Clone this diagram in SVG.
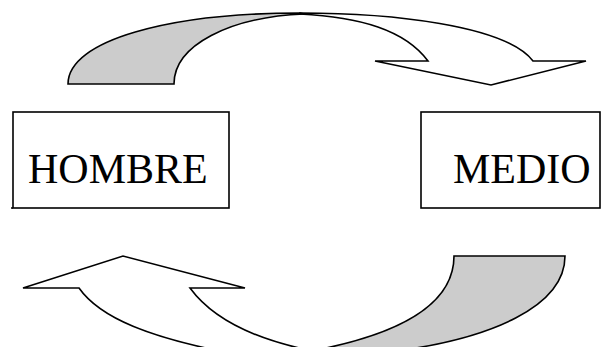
<svg xmlns="http://www.w3.org/2000/svg" width="602" height="347" viewBox="0 0 602 347">
<style>
.shape{stroke:#000;stroke-width:1.6;stroke-linejoin:miter}
.gray{fill:#cccccc}
.white{fill:#ffffff}
.box{fill:#fff;stroke:#000;stroke-width:1.6}
.lbl{font-family:"Liberation Serif","Times New Roman",serif;font-size:42px;fill:#000}
</style>
<rect width="602" height="347" fill="#fff"/>
<g id="connectors">
  <g id="top-arrow">
    <path class="shape gray" d="M68,84 C68,40 170,13 300,13 L304,14 C230,17 174,45 174,84 Z"/>
    <path class="shape white" d="M300,13 C390,13 505,25 533,61 L586,61 L491,85 L375,61 L428,61 C405,30 360,17 300,14 Z"/>
  </g>
  <g id="bottom-arrow">
    <path class="shape gray" d="M454,256 L565,256 C565,305 495,340 380,353 L300,353 C400,336 454,305 454,256 Z"/>
    <path class="shape white" d="M23,288 L123,256 L245,288 L190,288 C212,318 255,342 330,354 L235,354 C150,338 100,318 79,288 Z"/>
  </g>
</g>
<g id="node-hombre">
  <rect class="box" x="13" y="112" width="216" height="96"/>
  <line x1="11" y1="208" x2="13" y2="208" stroke="#000" stroke-width="1.6"/>
  <text class="lbl" x="28" y="183">HOMBRE</text>
</g>
<g id="node-medio">
  <rect class="box" x="421" y="112" width="179" height="96"/>
  <text class="lbl" x="453" y="183">MEDIO</text>
</g>
</svg>
